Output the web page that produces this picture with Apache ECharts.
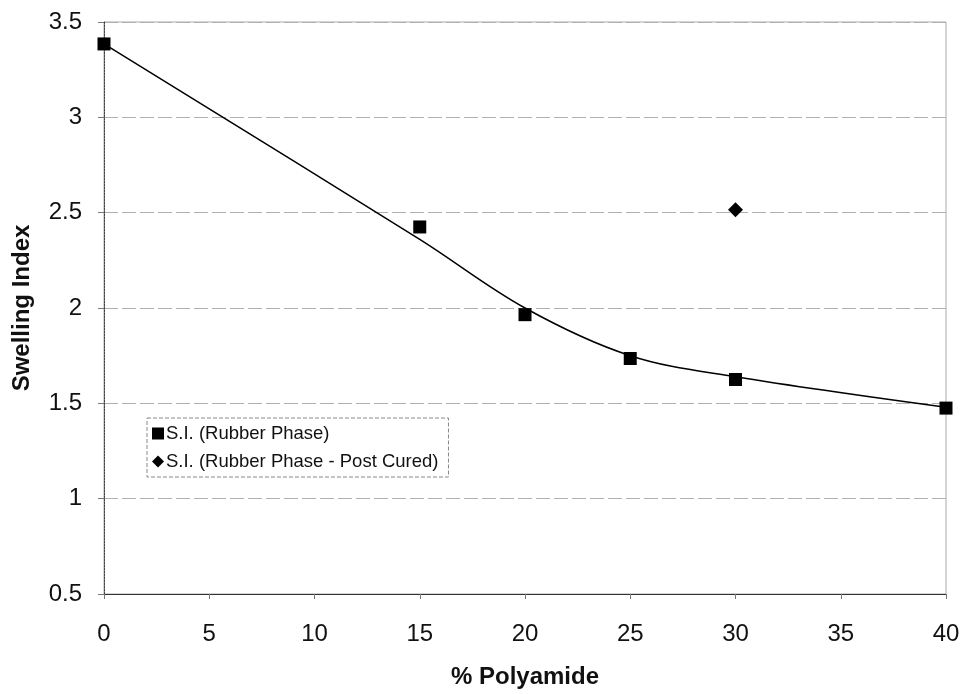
<!DOCTYPE html>
<html>
<head>
<meta charset="utf-8">
<script src="https://cdn.jsdelivr.net/npm/echarts@6/dist/echarts.min.js"></script>
<style>
  html, body { margin: 0; padding: 0; background: #fff; }
  #main { width: 961px; height: 694px; }
</style>
</head>
<body>
<div id="main"></div>
<script>
// measured points
let polyamide = [0, 15, 20, 25, 30, 40];
let rubberPhase = [3.385, 2.425, 1.965, 1.735, 1.625, 1.475];
let postCuredX = [30];
let postCured = [2.515];
// trend line as drawn in the picture
let trendX = [0, 15, 20, 25, 30, 40];
let trendY = [3.385, 2.36, 2.0, 1.75, 1.64, 1.48];

let chartDom = document.getElementById('main');
let myChart = echarts.init(chartDom);
let option;

const font = 'Liberation Sans, Arial, sans-serif';

option = {
  animation: false,
  backgroundColor: '#fff',
  grid: {
    left: 104,
    right: 15,
    top: 22,
    bottom: 100,
    outerBoundsMode: 'none',
    show: true,
    borderColor: '#aaa',
    borderWidth: 1
  },
  legend: {
    data: [
      { name: 'S.I. (Rubber Phase)', icon: 'rect' },
      { name: 'S.I. (Rubber Phase - Post Cured)', icon: 'diamond' }
    ],
    orient: 'vertical',
    left: 147,
    top: 418,
    itemWidth: 12,
    itemHeight: 12,
    itemGap: 9,
    padding: [6, 10, 6, 5],
    borderColor: '#888',
    borderWidth: 1,
    borderType: 'dashed',
    textStyle: {
      fontFamily: font,
      fontSize: 18.5,
      color: '#111',
      padding: [0, 0, 0, -3]
    }
  },
  xAxis: {
    type: 'value',
    min: 0,
    max: 40,
    interval: 5,
    name: '% Polyamide',
    nameLocation: 'middle',
    nameGap: 71,
    nameTextStyle: {
      fontFamily: font,
      fontSize: 24,
      fontWeight: 'bold',
      color: '#111'
    },
    axisLine: { lineStyle: { color: '#333', width: 1 } },
    axisTick: { show: true, length: 5, lineStyle: { color: '#777' } },
    axisLabel: {
      fontFamily: font,
      fontSize: 24,
      color: '#111',
      margin: 28
    },
    splitLine: { show: false }
  },
  yAxis: {
    type: 'value',
    min: 0.5,
    max: 3.5,
    interval: 0.5,
    name: 'Swelling Index',
    nameLocation: 'middle',
    nameGap: 70,
    nameRotate: 90,
    nameTextStyle: {
      fontFamily: font,
      fontSize: 24,
      fontWeight: 'bold',
      color: '#111'
    },
    axisLine: { show: true, lineStyle: { color: '#444', width: 1, type: [2, 1] } },
    axisTick: { show: true, length: 6, lineStyle: { color: '#777' } },
    axisLabel: {
      fontFamily: font,
      fontSize: 24,
      color: '#111',
      margin: 22
    },
    splitLine: {
      show: true,
      lineStyle: { color: '#b0b0b0', width: 1, type: [14, 4] }
    }
  },
  series: [
    {
      name: 'trend',
      type: 'line',
      data: trendX.map((x, i) => [x, trendY[i]]),
      smooth: 0.35,
      showSymbol: false,
      silent: true,
      z: 2,
      lineStyle: { color: '#000', width: 1.5 }
    },
    {
      name: 'S.I. (Rubber Phase)',
      type: 'scatter',
      symbol: 'rect',
      symbolSize: 13,
      z: 3,
      itemStyle: { color: '#000', opacity: 1 },
      data: polyamide.map((x, i) => [x, rubberPhase[i]])
    },
    {
      name: 'S.I. (Rubber Phase - Post Cured)',
      type: 'scatter',
      symbol: 'diamond',
      symbolSize: 15,
      z: 3,
      itemStyle: { color: '#000', opacity: 1 },
      data: postCuredX.map((x, i) => [x, postCured[i]])
    }
  ]
};

option && myChart.setOption(option);
</script>
</body>
</html>
